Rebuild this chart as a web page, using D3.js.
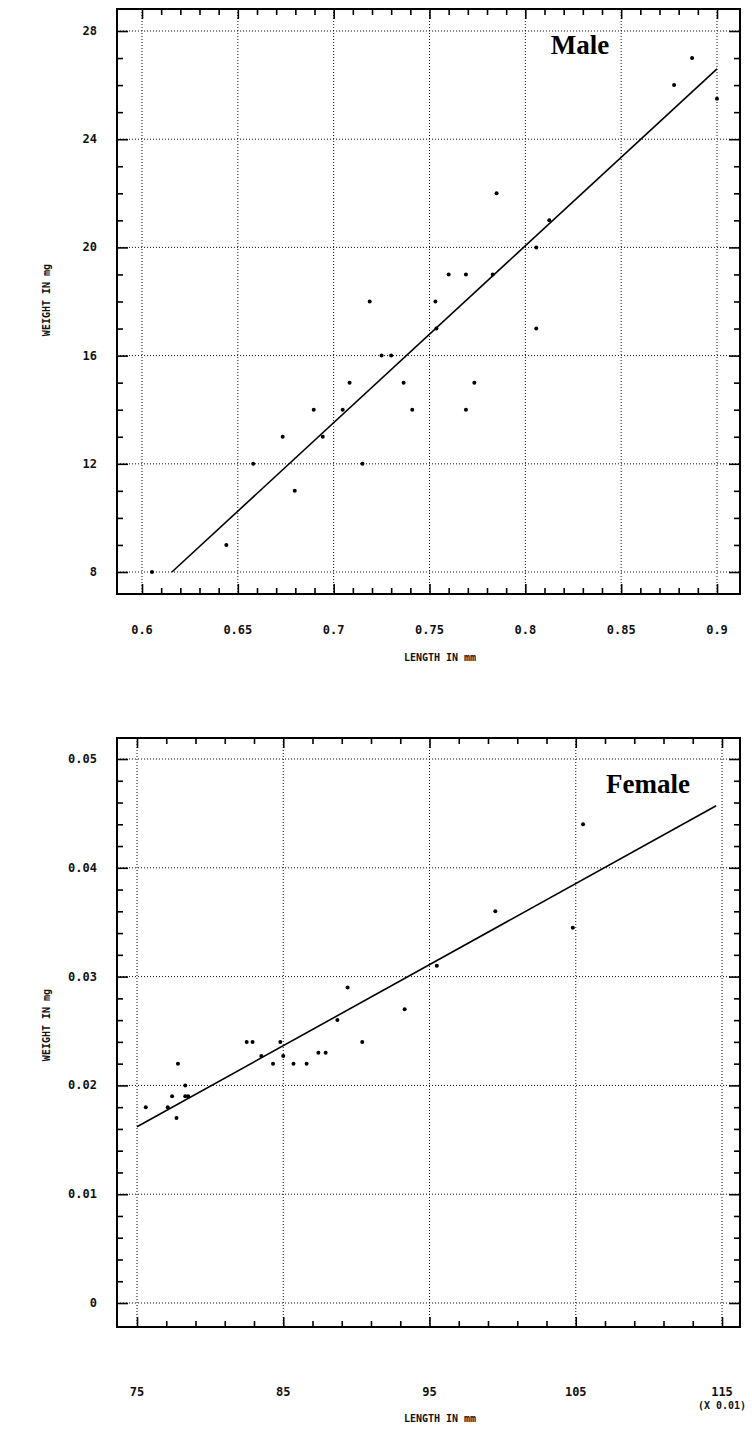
<!DOCTYPE html>
<html>
<head>
<meta charset="utf-8">
<script src="https://cdn.jsdelivr.net/npm/d3@7"></script>
<style>
  body { margin: 0; background: #fff; }
  svg { display: block; }
  .lbl { font-family: "DejaVu Sans Mono", monospace; font-weight: bold; font-size: 12px; fill: #111; }
  .ttl { font-family: "Liberation Serif", serif; font-weight: bold; font-size: 27px; fill: #000; }
</style>
</head>
<body>
<svg width="752" height="1431"></svg>
<script>
const svg = d3.select('svg')

// male panel data (length mm, weight mg)
const maleLength = [0.6052, 0.644, 0.658, 0.6734, 0.6797, 0.6896, 0.6943, 0.7047, 0.7083, 0.715,
  0.7188, 0.725, 0.730, 0.7365, 0.741, 0.7531, 0.7536, 0.760, 0.769, 0.769,
  0.7734, 0.783, 0.785, 0.8057, 0.8057, 0.8125, 0.8776, 0.887, 0.9]
const maleWeight = [8, 9, 12, 13, 11, 14, 13, 14, 15, 12,
  18, 16, 16, 15, 14, 18, 17, 19, 19, 14,
  15, 19, 22, 20, 17, 21, 26, 27, 25.5]
const maleFitX = [0.6156, 0.9]
const maleFitY = [8, 26.6]
const maleXTicks = [0.6, 0.65, 0.7, 0.75, 0.8, 0.85, 0.9]
const maleYTicks = [8, 12, 16, 20, 24, 28]

// female panel data (length x 0.01 mm, weight mg)
const femaleLength = [75.6, 77.1, 77.4, 77.7, 77.8, 78.3, 78.3, 78.5, 82.5, 82.9,
  83.5, 84.3, 84.8, 85.0, 85.7, 86.6, 87.4, 87.9, 88.7, 89.4,
  90.4, 93.3, 95.5, 99.5, 104.8, 105.5]
const femaleWeight = [0.018, 0.018, 0.019, 0.017, 0.022, 0.020, 0.019, 0.019, 0.024, 0.024,
  0.0227, 0.022, 0.024, 0.0227, 0.022, 0.022, 0.023, 0.023, 0.026, 0.029,
  0.024, 0.027, 0.031, 0.036, 0.0345, 0.044]
const femaleFitX = [75, 114.6]
const femaleFitY = [0.0162, 0.0457]
const femaleXTicks = [75, 85, 95, 105, 115]
const femaleYTicks = [0, 0.01, 0.02, 0.03, 0.04, 0.05]

drawPanel({
  frame: { x0: 117, x1: 740, y0: 9, y1: 594 },
  x: d3.scaleLinear().domain([0.6, 0.9]).range([142, 717]),
  y: d3.scaleLinear().domain([8, 28]).range([572, 31]),
  xTicks: maleXTicks, yTicks: maleYTicks,
  xMinorStep: 0.01, yMinorStep: 1,
  xFmt: d => d3.format('~g')(d), yFmt: d => d,
  px: maleLength, py: maleWeight,
  fx: maleFitX, fy: maleFitY,
  title: 'Male', titleX: 580, titleY: 54,
  xLabelY: 634, xTitleY: 661, yTitleY: 300
})

drawPanel({
  frame: { x0: 117, x1: 740, y0: 738, y1: 1327 },
  x: d3.scaleLinear().domain([75, 115]).range([137, 722]),
  y: d3.scaleLinear().domain([0, 0.05]).range([1303, 759]),
  xTicks: femaleXTicks, yTicks: femaleYTicks,
  xMinorStep: 2, yMinorStep: 0.002,
  xFmt: d => d, yFmt: d => d === 0 ? '0' : d3.format('.2f')(d),
  px: femaleLength, py: femaleWeight,
  fx: femaleFitX, fy: femaleFitY,
  title: 'Female', titleX: 648, titleY: 793,
  xLabelY: 1396, xTitleY: 1422, yTitleY: 1025,
  note: '(X 0.01)', noteX: 722, noteY: 1409
})

function drawPanel(c) {
  const g = svg.append('g')
  const f = c.frame
  const xMinor = d3.range(c.xTicks[0], c.xTicks[c.xTicks.length - 1] + c.xMinorStep / 2, c.xMinorStep)
  const yMinor = d3.range(c.yTicks[0], c.yTicks[c.yTicks.length - 1] + c.yMinorStep / 2, c.yMinorStep)

  // dotted grid
  g.append('g').selectAll('line').data(c.xTicks).join('line')
    .attr('x1', d => c.x(d)).attr('x2', d => c.x(d))
    .attr('y1', f.y0).attr('y2', f.y1)
    .attr('stroke', '#111').attr('stroke-width', 1).attr('stroke-dasharray', '1,2')
  g.append('g').selectAll('line').data(c.yTicks).join('line')
    .attr('x1', f.x0).attr('x2', f.x1)
    .attr('y1', d => c.y(d)).attr('y2', d => c.y(d))
    .attr('stroke', '#111').attr('stroke-width', 1).attr('stroke-dasharray', '1,2')

  // inward ticks on all four sides
  const isMajor = (v, ticks) => ticks.some(t => Math.abs(t - v) < 1e-9)
  const tickStyle = sel => sel.call(s => s.select('.domain').remove())
    .selectAll('line').attr('stroke', '#000').attr('stroke-width', 1.6)
  const xa = (axis, y) => g.append('g').attr('transform', `translate(0,${y})`)
    .call(axis(c.x).tickValues(xMinor).tickFormat('')
      .tickSize(0)).call(tickStyle)
  xa(d3.axisBottom, f.y1).selectAll('.tick line')
    .attr('y2', d => isMajor(d, c.xTicks) ? -10 : -6)
  xa(d3.axisTop, f.y0).selectAll('.tick line')
    .attr('y2', d => isMajor(d, c.xTicks) ? 10 : 6)
  const ya = (axis, x, dir) => g.append('g').attr('transform', `translate(${x},0)`)
    .call(axis(c.y).tickValues(yMinor).tickFormat('').tickSize(0)).call(tickStyle)
    .selectAll('.tick line').attr('x2', d => dir * (isMajor(d, c.yTicks) ? 11 : 6))
  ya(d3.axisLeft, f.x0, 1)
  ya(d3.axisRight, f.x1, -1)

  // frame
  g.append('rect')
    .attr('x', f.x0).attr('y', f.y0)
    .attr('width', f.x1 - f.x0).attr('height', f.y1 - f.y0)
    .attr('fill', 'none').attr('stroke', '#000').attr('stroke-width', 2)

  // tick labels
  g.append('g').selectAll('text').data(c.xTicks).join('text')
    .attr('class', 'lbl').attr('x', d => c.x(d)).attr('y', c.xLabelY)
    .attr('text-anchor', 'middle').text(c.xFmt)
  g.append('g').selectAll('text').data(c.yTicks).join('text')
    .attr('class', 'lbl').attr('x', 97).attr('y', d => c.y(d) + 4)
    .attr('text-anchor', 'end').text(c.yFmt)

  // axis titles
  g.append('text').attr('class', 'lbl').style('font-size', '10px')
    .attr('x', 440).attr('y', c.xTitleY).attr('text-anchor', 'middle')
    .text('LENGTH IN mm')
  g.append('text').attr('class', 'lbl').style('font-size', '10px')
    .attr('transform', `translate(50,${c.yTitleY}) rotate(-90)`)
    .attr('text-anchor', 'middle').text('WEIGHT IN mg')
  if (c.note) {
    g.append('text').attr('class', 'lbl').style('font-size', '10px')
      .attr('x', c.noteX).attr('y', c.noteY).attr('text-anchor', 'middle').text(c.note)
  }

  // fitted line
  g.append('path')
    .datum(d3.zip(c.fx, c.fy))
    .attr('d', d3.line().x(d => c.x(d[0])).y(d => c.y(d[1])))
    .attr('fill', 'none').attr('stroke', '#000').attr('stroke-width', 1.6)

  // points
  g.append('g').selectAll('circle').data(d3.zip(c.px, c.py)).join('circle')
    .attr('cx', d => c.x(d[0])).attr('cy', d => c.y(d[1])).attr('r', 2)
    .attr('fill', '#000')

  g.append('text').attr('class', 'ttl')
    .attr('x', c.titleX).attr('y', c.titleY).attr('text-anchor', 'middle')
    .text(c.title)
}
</script>
</body>
</html>
